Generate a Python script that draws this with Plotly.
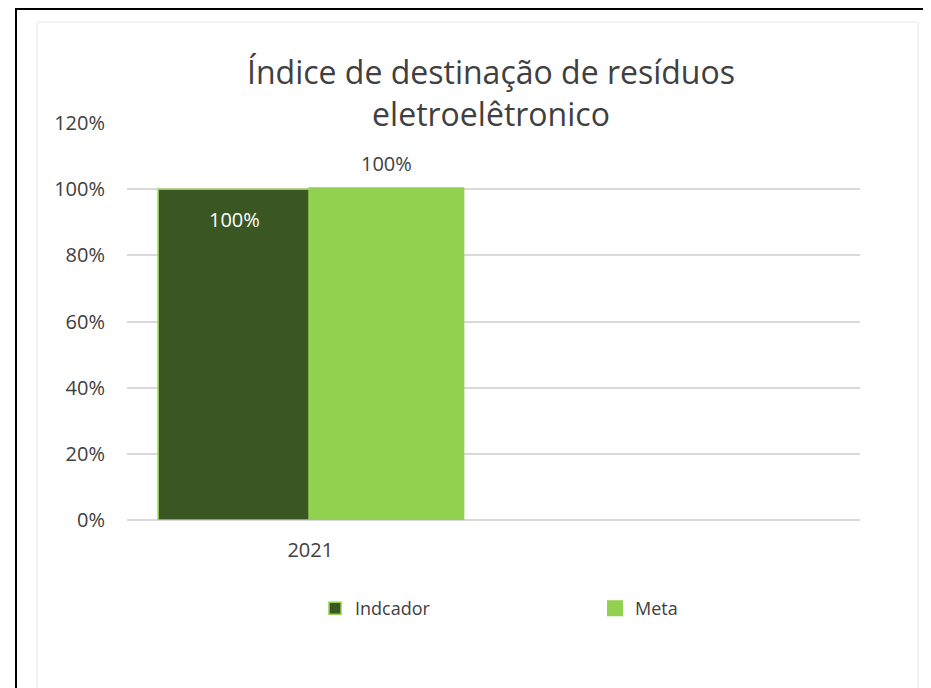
import plotly.graph_objects as go

categories = ["2021"]
indicador = [1.00]
meta = [1.00]
indicador_labels = ["100%"]
meta_labels = ["100%"]
y_ticks = [0, 0.2, 0.4, 0.6, 0.8, 1.0, 1.2]
y_tick_labels = ["0%", "20%", "40%", "60%", "80%", "100%", "120%"]

OFF = 8  # page body margin
W, H = 931, 688
L, R, T, B = 127, 860, 123, 520  # plot area in reference pixels

def px(x):
    return (x - L) / (R - L)

def py(y):
    return (B - y) / (B - T)

DARK = "#3a5723"
LIGHT = "#92d050"
TXT = "#404040"
FONT = "Open Sans, Liberation Sans, sans-serif"
BARGAP = 0.17

fig = go.Figure()
fig.add_trace(go.Bar(
    x=categories, y=indicador, name="Indcador",
    marker=dict(color=DARK, line=dict(color=LIGHT, width=1.5)),
))
fig.add_trace(go.Bar(
    x=categories, y=meta, name="Meta",
    marker=dict(color=LIGHT, line=dict(color=LIGHT, width=4)),
))

# data labels placed through the axes (bar centre offset within the group)
half = (1 - BARGAP) / 4
annotations = []
for i, (v, lab) in enumerate(zip(indicador, indicador_labels)):
    annotations.append(dict(
        x=i - half, y=v, xref="x", yref="y", text=lab, showarrow=False,
        yanchor="top", yshift=-15, font=dict(color="white", size=20, family=FONT),
    ))
for i, (v, lab) in enumerate(zip(meta, meta_labels)):
    annotations.append(dict(
        x=i + half, y=v, xref="x", yref="y", text=lab, showarrow=False,
        yanchor="bottom", yshift=10, font=dict(color=TXT, size=20, family=FONT),
    ))

fig.update_layout(
    width=W, height=H,
    margin=dict(l=L - OFF, r=W - R + OFF, t=T - OFF, b=H - B + OFF),
    paper_bgcolor="white", plot_bgcolor="white",
    barmode="group", bargap=BARGAP, bargroupgap=0,
    font=dict(family=FONT, color=TXT),
    title=dict(
        text="Índice de destinação de resíduos<br>eletroelêtronico",
        x=(491 - OFF) / W, xanchor="center", y=1 - (84 - OFF) / H, yanchor="top",
        font=dict(size=32, color=TXT, family=FONT),
    ),
    xaxis=dict(
        type="category", range=[-0.5, 1.5], showgrid=False,
        showline=False, ticks="", tickfont=dict(size=20, color=TXT),
        ticklabelstandoff=16,
    ),
    yaxis=dict(
        range=[0, 1.2], tickvals=y_ticks, ticktext=y_tick_labels,
        showgrid=True, gridcolor="#d9d9d9", gridwidth=2,
        zeroline=True, zerolinecolor="#d9d9d9", zerolinewidth=2,
        showline=False, ticks="", tickfont=dict(size=20, color=TXT),
        ticklabelstandoff=21,
    ),
    legend=dict(
        orientation="h", x=px(315), xanchor="left", y=py(590), yanchor="top",
        font=dict(size=18, color=TXT), entrywidth=235, entrywidthmode="pixels",
        itemwidth=30,
    ),
    annotations=annotations,
    shapes=[
        dict(type="rect", xref="paper", yref="paper",
             x0=px(37), x1=px(918), y0=py(720), y1=py(22),
             line=dict(color="#e6e6e6", width=1), layer="below"),
        dict(type="rect", xref="paper", yref="paper",
             x0=px(16), x1=px(980), y0=py(740), y1=py(9),
             line=dict(color="black", width=2), layer="below"),
    ],
)

fig.write_html("out.html")
